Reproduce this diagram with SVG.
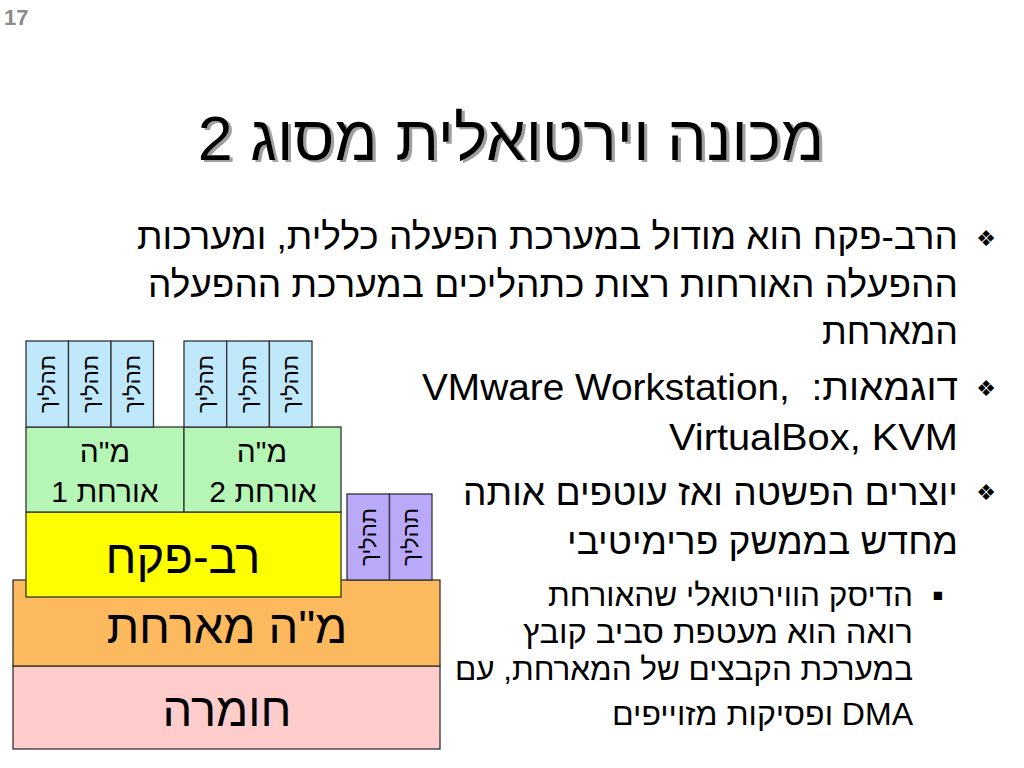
<svg xmlns="http://www.w3.org/2000/svg" width="1024" height="768" viewBox="0 0 1024 768">
<defs>
<filter id="shadow" x="-5%" y="-20%" width="110%" height="140%">
<feOffset in="SourceAlpha" dx="3" dy="2" result="off"/>
<feFlood flood-color="#a0a0a0"/>
<feComposite in2="off" operator="in" result="sh"/>
<feMerge><feMergeNode in="sh"/><feMergeNode in="SourceGraphic"/></feMerge>
</filter>
<style>
text{font-family:"Liberation Sans","Arial","DejaVu Sans",sans-serif;fill:#000;}
.box{stroke:#333;stroke-width:1.3;}
.proc{fill:#BFE8FB;}
.proc2{fill:#BAA8F8;}
.guest{fill:#B5F5B5;}
.hyp{fill:#FFFF00;}
.host{fill:#FDB95E;}
.hw{fill:#FFCCCC;}
.ptxt{font-size:22px;text-anchor:middle;dominant-baseline:central;}
.gtxt{font-size:30px;text-anchor:middle;}
.big{font-size:47px;text-anchor:middle;}
.main{font-size:37px;text-anchor:end;}
.sub{font-size:31px;text-anchor:end;}
.bul{font-size:22px;text-anchor:middle;}
</style>
</defs>
<rect width="1024" height="768" fill="#fff"/>
<text x="4" y="25" style="font-size:22px;font-weight:bold;fill:#8a8a8a">17</text>
<g id="title">
<text x="511" y="160" filter="url(#shadow)" style="font-size:63px;text-anchor:middle">מכונה וירטואלית מסוג 2</text>
</g>
<g id="bullets">
<text class="bul" x="986" y="246">❖</text>
<text class="main" x="958" y="249" textLength="821" lengthAdjust="spacingAndGlyphs">הרב-פקח הוא מודול במערכת הפעלה כללית, ומערכות</text>
<text class="main" x="958" y="297" textLength="810" lengthAdjust="spacingAndGlyphs">ההפעלה האורחות רצות כתהליכים במערכת ההפעלה</text>
<text class="main" x="958" y="344" textLength="136" lengthAdjust="spacingAndGlyphs">המארחת</text>
<text class="bul" x="986" y="396">❖</text>
<text class="main" x="958" y="400" textLength="536" lengthAdjust="spacingAndGlyphs">VMware Workstation,&#160; :דוגמאות</text>
<text class="main" x="958" y="450" textLength="289" lengthAdjust="spacingAndGlyphs">VirtualBox, KVM</text>
<text class="bul" x="986" y="500">❖</text>
<text class="main" x="958" y="505" textLength="495" lengthAdjust="spacingAndGlyphs">יוצרים הפשטה ואז עוטפים אותה</text>
<text class="main" x="958" y="554" textLength="391" lengthAdjust="spacingAndGlyphs">מחדש בממשק פרימיטיבי</text>
<text x="938" y="601" style="font-size:17px;text-anchor:middle">■</text>
<text class="sub" x="913" y="606" textLength="365" lengthAdjust="spacingAndGlyphs">הדיסק הווירטואלי שהאורחת</text>
<text class="sub" x="913" y="643" textLength="390" lengthAdjust="spacingAndGlyphs">רואה הוא מעטפת סביב קובץ</text>
<text class="sub" x="913" y="680" textLength="458" lengthAdjust="spacingAndGlyphs">במערכת הקבצים של המארחת, עם</text>
<text class="sub" x="913" y="725" textLength="301" lengthAdjust="spacingAndGlyphs">ופסיקות מזוייפים DMA</text>
</g>
<g id="hardware">
<rect class="box hw" x="13" y="666" width="427" height="83"/>
<text class="big" x="227" y="726">חומרה</text>
</g>
<g id="host-os">
<rect class="box host" x="13" y="580" width="427" height="86"/>
<text class="big" x="227" y="643">מ"ה מארחת</text>
</g>
<g id="hypervisor">
<rect class="box hyp" x="26" y="512" width="315" height="85"/>
<text class="big" x="183" y="573">רב-פקח</text>
</g>
<g id="guest1">
<rect class="box guest" x="26" y="427" width="158" height="85"/>
<text class="gtxt" x="105" y="462">מ"ה</text>
<text class="gtxt" x="105" y="502">אורחת 1</text>
</g>
<g id="guest2">
<rect class="box guest" x="184" y="427" width="157" height="85"/>
<text class="gtxt" x="262" y="462">מ"ה</text>
<text class="gtxt" x="263" y="502">אורחת 2</text>
</g>
<g id="guest1-procs">
<rect class="box proc" x="26" y="341" width="42.5" height="86"/>
<rect class="box proc" x="68.5" y="341" width="42.5" height="86"/>
<rect class="box proc" x="111" y="341" width="42.5" height="86"/>
<text class="ptxt" transform="translate(47.5,384) rotate(-90)">תהליך</text>
<text class="ptxt" transform="translate(90,384) rotate(-90)">תהליך</text>
<text class="ptxt" transform="translate(132.5,384) rotate(-90)">תהליך</text>
</g>
<g id="guest2-procs">
<rect class="box proc" x="184" y="341" width="42.7" height="86"/>
<rect class="box proc" x="226.7" y="341" width="42.7" height="86"/>
<rect class="box proc" x="269.4" y="341" width="42.6" height="86"/>
<text class="ptxt" transform="translate(205.5,384) rotate(-90)">תהליך</text>
<text class="ptxt" transform="translate(248,384) rotate(-90)">תהליך</text>
<text class="ptxt" transform="translate(290.7,384) rotate(-90)">תהליך</text>
</g>
<g id="host-procs">
<rect class="box proc2" x="347" y="494" width="42.5" height="86"/>
<rect class="box proc2" x="389.5" y="494" width="42.5" height="86"/>
<text class="ptxt" transform="translate(368.2,537) rotate(-90)">תהליך</text>
<text class="ptxt" transform="translate(410.7,537) rotate(-90)">תהליך</text>
</g>
<g id="connectors"></g>
</svg>
